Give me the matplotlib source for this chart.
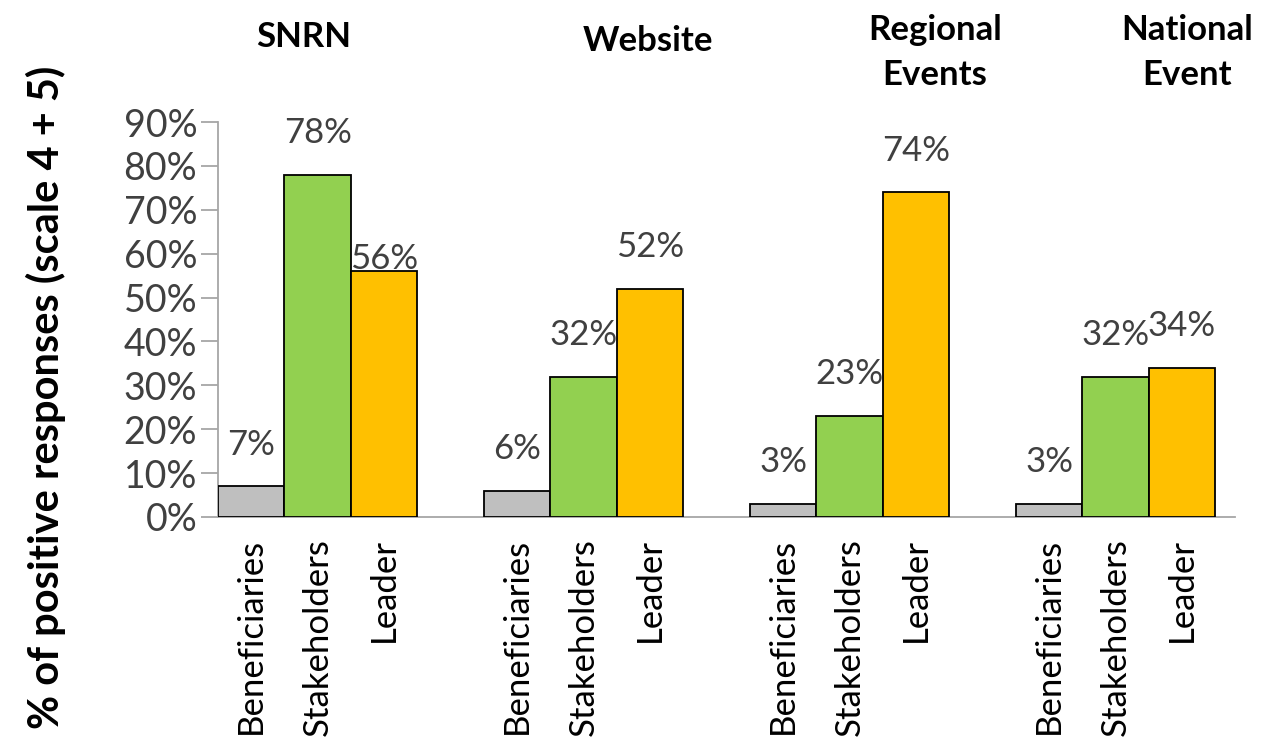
import numpy as np
import matplotlib
matplotlib.use("Agg")
import matplotlib.pyplot as plt
import matplotlib.transforms as mtransforms
from matplotlib.ticker import PercentFormatter

plt.rcParams['font.family'] = ['Lato', 'DejaVu Sans']

# Data
groups = ['SNRN', 'Website', 'Regional\nEvents', 'National\nEvent']
respondents = ['Beneficiaries', 'Stakeholders', 'Leader']
beneficiaries = [7, 6, 3, 3]
stakeholders = [78, 32, 23, 32]
leader = [56, 52, 74, 34]

colors = ['#BFBFBF', '#92D050', '#FFC000']

fig = plt.figure(figsize=(12.63, 7.5), dpi=100)
ax = fig.add_axes([0.1726, 0.3107, 0.978 - 0.1726, 0.8373 - 0.3107])

series = [beneficiaries, stakeholders, leader]
xticks, xlabels = [], []
for g in range(len(groups)):
    for k, vals in enumerate(series):
        x = g * 4 + k
        v = vals[g]
        ax.bar(x, v, width=1.0, color=colors[k], edgecolor='black', linewidth=1.3, zorder=3)
        # the SNRN leader label sits low, right next to its bar top
        dy = 9 if (g == 0 and k == 2) else 30
        ax.annotate(f'{v}%', (x, v), xytext=(0, dy), textcoords='offset points',
                    ha='center', va='center', fontsize=25, color='#404040')
        xticks.append(x)
        xlabels.append(respondents[k])

ax.set_xlim(-0.5, 14.8)
ax.set_ylim(0, 90)
ax.set_yticks(np.arange(0, 91, 10))
ax.yaxis.set_major_formatter(PercentFormatter(decimals=0))
ax.set_xticks(xticks)
ax.set_xticklabels(xlabels, rotation=90, fontsize=25, color='black')
ax.tick_params(axis='x', length=0, pad=15)
ax.tick_params(axis='y', length=12, width=1.3, color='#A6A6A6', labelsize=27, pad=3, labelcolor='#404040')

for s in ['top', 'right']:
    ax.spines[s].set_visible(False)
ax.spines['left'].set_color('#A6A6A6')
ax.spines['left'].set_linewidth(1.3)
ax.spines['bottom'].set_color('#A6A6A6')
ax.spines['bottom'].set_linewidth(1.3)

# group titles above the plot
title_x = [0.79, 5.97, 10.28, 14.08]
title_y = [0.951, 0.945, 0.930, 0.930]
trans = mtransforms.blended_transform_factory(ax.transData, fig.transFigure)
for name, tx, ty in zip(groups, title_x, title_y):
    ax.text(tx, ty, name, transform=trans, ha='center', va='center',
            fontsize=25, fontweight='bold', color='black', linespacing=1.5)

fig.text(0.036, 0.47, '% of positive responses (scale 4 + 5)', rotation=90,
         ha='center', va='center', fontsize=30, fontweight='bold')

fig.savefig('out.png', dpi=100)
